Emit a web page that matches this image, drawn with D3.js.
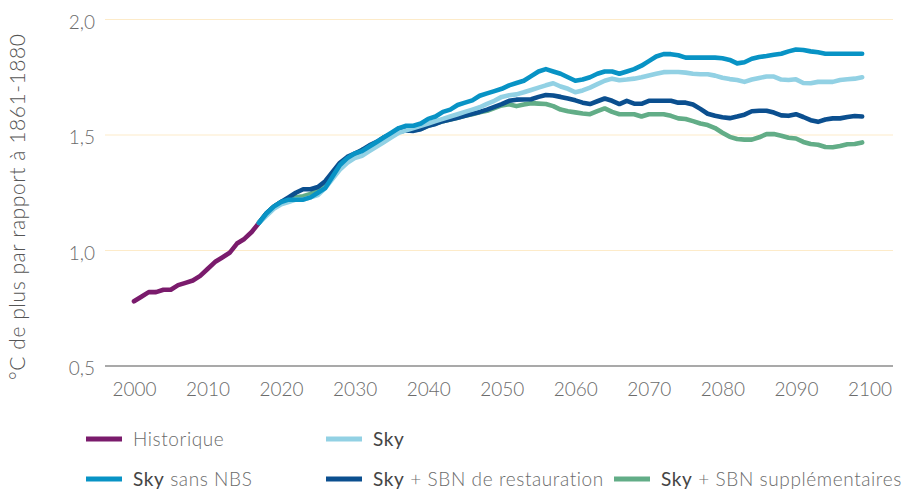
<!DOCTYPE html>
<html lang="fr">
<head>
<meta charset="utf-8">
<script src="https://cdn.jsdelivr.net/npm/d3@7"></script>
<style>
  html, body { margin: 0; padding: 0; background: #fff; }
  svg { display: block; font-family: "Lato", "Noto Sans", sans-serif; }
</style>
</head>
<body>
<svg id="chart" width="910" height="491"></svg>
<script>
// Réchauffement moyen (°C au-dessus de 1861-1880), historique et scénarios
const histStart = 2000;
const historique = [0.78, 0.80, 0.82, 0.82, 0.83, 0.83, 0.85, 0.86, 0.87, 0.89,
  0.92, 0.95, 0.97, 0.99, 1.03, 1.05, 1.08, 1.12];

const projStart = 2017;
const sky = [1.12, 1.15, 1.18, 1.20, 1.21, 1.22, 1.22, 1.23, 1.24, 1.27,
  1.31, 1.35, 1.38, 1.40, 1.41, 1.43, 1.45, 1.47, 1.49, 1.51,
  1.52, 1.53, 1.54, 1.55, 1.56, 1.57, 1.58, 1.59, 1.60, 1.61,
  1.62, 1.635, 1.648, 1.665, 1.672, 1.676, 1.685, 1.695, 1.705, 1.715,
  1.724, 1.71, 1.70, 1.685, 1.693, 1.705, 1.72, 1.735, 1.744, 1.737,
  1.74, 1.744, 1.75, 1.758, 1.765, 1.772, 1.773, 1.773, 1.77, 1.765,
  1.763, 1.763, 1.757, 1.748, 1.742, 1.738, 1.73, 1.74, 1.747, 1.753,
  1.753, 1.74, 1.738, 1.741, 1.725, 1.724, 1.73, 1.73, 1.73, 1.738,
  1.741, 1.744, 1.75];

const sansNBS = [1.12, 1.16, 1.19, 1.21, 1.22, 1.22, 1.22, 1.23, 1.25, 1.27,
  1.32, 1.37, 1.40, 1.42, 1.43, 1.45, 1.47, 1.49, 1.51, 1.53,
  1.54, 1.54, 1.55, 1.57, 1.58, 1.60, 1.61, 1.63, 1.64, 1.65,
  1.67, 1.68, 1.69, 1.70, 1.715, 1.725, 1.735, 1.755, 1.775, 1.785,
  1.775, 1.765, 1.75, 1.735, 1.74, 1.75, 1.765, 1.775, 1.775, 1.765,
  1.775, 1.785, 1.80, 1.82, 1.84, 1.85, 1.85, 1.845, 1.835, 1.835,
  1.835, 1.835, 1.835, 1.832, 1.825, 1.81, 1.815, 1.83, 1.838, 1.842,
  1.847, 1.852, 1.862, 1.87, 1.868, 1.862, 1.858, 1.852, 1.852, 1.852,
  1.852, 1.852, 1.852];

const restauration = [1.12, 1.16, 1.19, 1.21, 1.23, 1.25, 1.265, 1.265, 1.275, 1.30,
  1.34, 1.38, 1.405, 1.42, 1.435, 1.455, 1.47, 1.49, 1.505, 1.515,
  1.52, 1.518, 1.525, 1.54, 1.548, 1.56, 1.567, 1.575, 1.583, 1.592,
  1.60, 1.61, 1.622, 1.634, 1.648, 1.653, 1.654, 1.655, 1.665, 1.673,
  1.671, 1.665, 1.658, 1.65, 1.64, 1.634, 1.646, 1.658, 1.648, 1.634,
  1.648, 1.636, 1.635, 1.648, 1.648, 1.648, 1.648, 1.64, 1.64, 1.632,
  1.613, 1.592, 1.583, 1.577, 1.573, 1.58, 1.588, 1.603, 1.605, 1.605,
  1.597, 1.585, 1.583, 1.59, 1.578, 1.564, 1.557, 1.567, 1.572, 1.572,
  1.578, 1.582, 1.58];

const supplementaires = [1.12, 1.16, 1.19, 1.21, 1.22, 1.23, 1.235, 1.245, 1.26, 1.285,
  1.33, 1.37, 1.395, 1.415, 1.435, 1.445, 1.46, 1.48, 1.50, 1.515,
  1.52, 1.52, 1.527, 1.54, 1.55, 1.56, 1.567, 1.575, 1.583, 1.59,
  1.598, 1.605, 1.617, 1.628, 1.633, 1.625, 1.632, 1.638, 1.636, 1.634,
  1.625, 1.61, 1.603, 1.598, 1.593, 1.59, 1.603, 1.615, 1.60, 1.59,
  1.59, 1.59, 1.58, 1.59, 1.59, 1.59, 1.583, 1.572, 1.569, 1.56,
  1.55, 1.543, 1.53, 1.51, 1.492, 1.483, 1.48, 1.48, 1.49, 1.504,
  1.504, 1.497, 1.488, 1.485, 1.47, 1.461, 1.458, 1.448, 1.447, 1.452,
  1.46, 1.461, 1.468];

const xTickLabels = [2000, 2010, 2020, 2030, 2040, 2050, 2060, 2070, 2080, 2090, 2100];
const yTickLabels = [0.5, 1.0, 1.5, 2.0];

const colors = {
  historique: "#7a1b6c",
  sky: "#92d1e4",
  sansNBS: "#0893c5",
  restauration: "#0b4f8f",
  supplementaires: "#62ad87"
};

const svg = d3.select("#chart");
const x = d3.scaleLinear().domain([2000, 2100]).range([134, 869.5]);
const y = d3.scaleLinear().domain([0.5, 2.0]).range([366, 19.5]);
const gridLeft = 105, gridRight = 893;

// Grille horizontale
svg.append("g")
  .selectAll("line")
  .data(yTickLabels.filter(v => v > 0.5))
  .join("line")
  .attr("x1", gridLeft).attr("x2", gridRight)
  .attr("y1", d => y(d)).attr("y2", d => y(d))
  .attr("stroke", "#fdebc9").attr("stroke-width", 1.2);

// Axe Y (libellés seulement)
const fmt = d => d3.format(".1f")(d).replace(".", ",");
const yAxis = d3.axisLeft(y).tickValues(yTickLabels).tickFormat(fmt).tickSize(0).tickPadding(0);
const gy = svg.append("g").attr("transform", `translate(${gridLeft - 10},0)`).call(yAxis);
gy.select(".domain").remove();
gy.selectAll("text")
  .attr("fill", "#6b6b6b").attr("font-size", 19).attr("font-weight", 300)
  .attr("font-family", "Lato, sans-serif").attr("dy", "0.45em");

// Axe X
const xAxis = d3.axisBottom(x).tickValues(xTickLabels).tickFormat(d3.format("d")).tickSize(0).tickPadding(0);
const gx = svg.append("g").attr("transform", `translate(0,${y(0.5)})`).call(xAxis);
gx.select(".domain").remove();
gx.selectAll("text")
  .attr("fill", "#6b6b6b").attr("font-size", 19).attr("font-weight", 300)
  .attr("font-family", "Lato, sans-serif").attr("y", 30).attr("dy", 0);

svg.append("line")
  .attr("x1", gridLeft).attr("x2", gridRight)
  .attr("y1", y(0.5)).attr("y2", y(0.5))
  .attr("stroke", "#8c8c8c").attr("stroke-width", 1.3);

// Titre de l'axe Y
svg.append("text")
  .attr("transform", "translate(25,207) rotate(-90)")
  .attr("text-anchor", "middle")
  .attr("fill", "#555").attr("font-size", 21).attr("font-weight", 300)
  .attr("textLength", 346).attr("lengthAdjust", "spacing")
  .text("°C de plus par rapport à 1861-1880");

// Courbes
const line = d3.line().x(d => x(d[0])).y(d => y(d[1]));
const toPoints = (vals, start) => vals.map((v, i) => [start + i, v]);

const series = [
  { key: "historique", vals: historique, start: histStart },
  { key: "supplementaires", vals: supplementaires, start: projStart },
  { key: "restauration", vals: restauration, start: projStart },
  { key: "sky", vals: sky, start: projStart },
  { key: "sansNBS", vals: sansNBS, start: projStart }
];

svg.append("g")
  .selectAll("path")
  .data(series)
  .join("path")
  .attr("d", s => line(toPoints(s.vals, s.start)))
  .attr("fill", "none")
  .attr("stroke", s => colors[s.key])
  .attr("stroke-width", 4.6)
  .attr("stroke-linejoin", "round")
  .attr("stroke-linecap", "round");

// Légende
const legendItems = [
  { key: "historique", bold: "", rest: "Historique", x: 86, y: 439 },
  { key: "sky", bold: "Sky", rest: "", x: 326, y: 439 },
  { key: "sansNBS", bold: "Sky", rest: " sans NBS", x: 86, y: 479 },
  { key: "restauration", bold: "Sky", rest: " + SBN de restauration", x: 326, y: 479 },
  { key: "supplementaires", bold: "Sky", rest: " + SBN supplémentaires", x: 614, y: 479 }
];

const lg = svg.append("g").selectAll("g").data(legendItems).join("g")
  .attr("transform", d => `translate(${d.x},${d.y})`);
lg.append("rect")
  .attr("x", 0).attr("y", -2.5).attr("width", 36).attr("height", 5)
  .attr("fill", d => colors[d.key]);
const lt = lg.append("text")
  .attr("x", 47).attr("y", 7)
  .attr("font-size", 19)
  .attr("letter-spacing", 0.6)
  .style("white-space", "pre");
lt.append("tspan")
  .attr("fill", "#444").attr("font-weight", 400)
  .text(d => d.bold);
lt.append("tspan")
  .attr("fill", "#6b6b6b").attr("font-weight", 300)
  .text(d => d.rest);
</script>
</body>
</html>
